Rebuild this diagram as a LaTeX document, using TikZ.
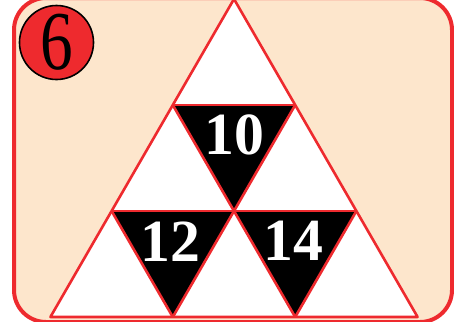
\documentclass[tikz,border=0pt]{standalone}
\usepackage{fontspec}
\setmainfont{Liberation Serif}
\newfontfamily\narrowserif[FakeStretch=0.78]{Liberation Serif}
\usepackage{tikz}
\usetikzlibrary{calc}
\definecolor{mPeach}{HTML}{FDE6CC}
\definecolor{mRed}{HTML}{EE2A2E}

\begin{document}
\begin{tikzpicture}[x=1bp,y=-1bp,
    cellline/.style={mRed,line width=2.6bp,line join=round},
    blackcell/.style={fill=black},
    numtext/.style={text=white,font=\fontsize{60}{62}\selectfont\bfseries,inner sep=0pt}]
  \useasboundingbox (0,0) rectangle (454,321);
  \clip (0,0) rectangle (454,321);
  \def\s{122.4}
  \def\h{106}
  % card behind everything
  \draw[mRed,fill=mPeach,line width=4bp,rounded corners=32bp] (14,-2) rectangle (452,322);

  % grid points of the big triangle, row k, position i
  \foreach \k in {0,...,3}
    \foreach \i in {0,...,\k}
      \coordinate (p\k\i) at ({234+(\i-\k/2)*\s},{-1+\h*\k});

  % white triangle and the three black ones
  \fill[white] (p00) -- (p30) -- (p33) -- cycle;
  \fill[blackcell] (p10) -- (p11) -- (p21) -- cycle;
  \fill[blackcell] (p20) -- (p21) -- (p31) -- cycle;
  \fill[blackcell] (p21) -- (p22) -- (p32) -- cycle;

  % red lines
  \draw[cellline] (p00) -- (p30) -- (p33) -- cycle;
  \draw[cellline] (p10) -- (p11) (p20) -- (p22);
  \draw[cellline] (p10) -- (p32) (p20) -- (p31);
  \draw[cellline] (p11) -- (p31) (p22) -- (p32);

  % numbers
  \node[numtext] (n10) at ($(p10)!0.5!(p11)+(0,30)$) {10};
  \node[numtext] (n12) at ($(p20)!0.5!(p21)+(-2,31)$) {12};
  \node[numtext] (n14) at ($(p21)!0.5!(p22)+(-2,30)$) {14};

  % task badge
  \node[circle,fill=mRed,draw=black,line width=1.6bp,minimum size=74bp,inner sep=0pt,
        font=\narrowserif\fontsize{84}{86}\selectfont] (badge) at (56.5,42.5) {6};
\end{tikzpicture}
\end{document}
